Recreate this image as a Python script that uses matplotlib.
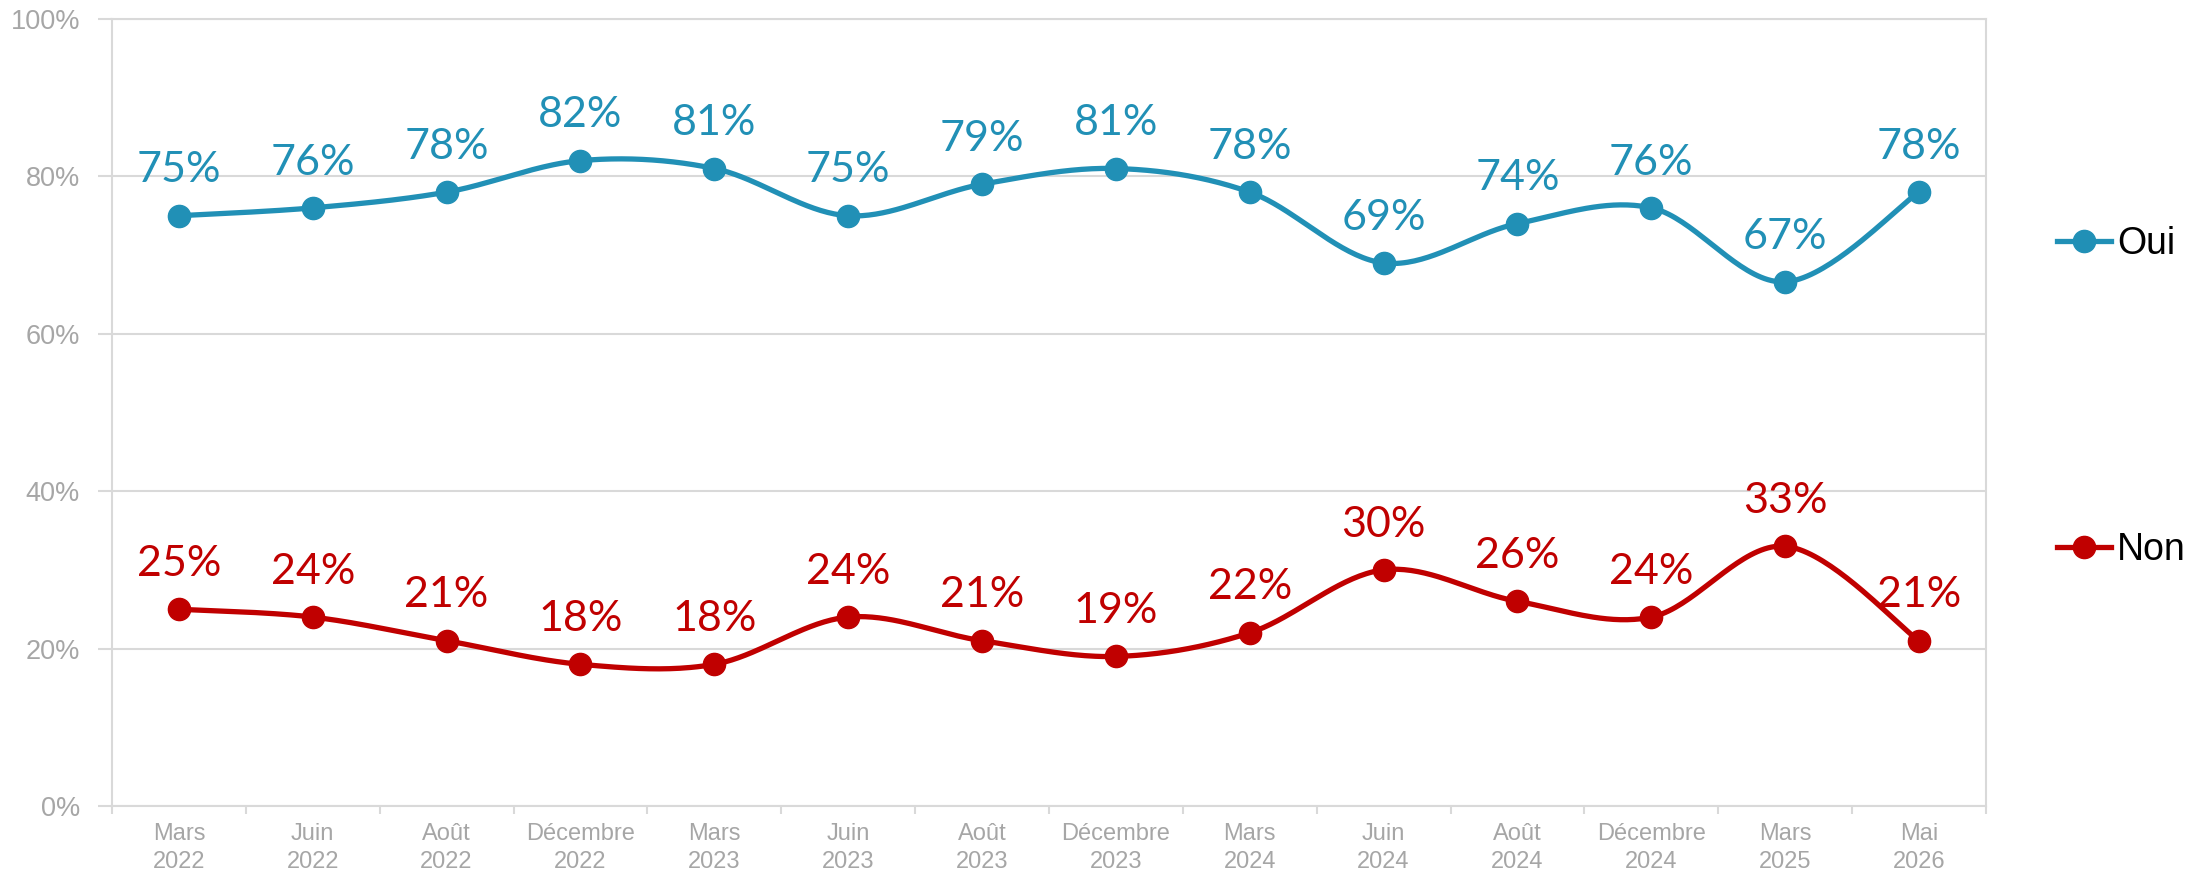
import numpy as np
import matplotlib.pyplot as plt
from matplotlib.lines import Line2D

# data
periods = ["Mars\n2022", "Juin\n2022", "Août\n2022", "Décembre\n2022", "Mars\n2023",
           "Juin\n2023", "Août\n2023", "Décembre\n2023", "Mars\n2024", "Juin\n2024",
           "Août\n2024", "Décembre\n2024", "Mars\n2025", "Mai\n2026"]
oui = [75, 76, 78, 82, 81, 75, 79, 81, 78, 69, 74, 76, 66.6, 78]
non = [25, 24, 21, 18, 18, 24, 21, 19, 22, 30, 26, 24, 33, 21]
series_names = ["Oui", "Non"]

BLUE = "#2190B6"
RED = "#C00000"
GRID = "#D9D9D9"
TICKTXT = "#A6A6A6"


def smooth(x, y, n=40):
    # Excel-style smoothed line: cubic Bezier through each pair of points
    x = np.asarray(x, float)
    y = np.asarray(y, float)
    px = np.concatenate([[x[0]], x, [x[-1]]])
    py = np.concatenate([[y[0]], y, [y[-1]]])
    t = np.linspace(0, 1, n)[:, None]
    xs, ys = [], []
    for i in range(len(x) - 1):
        p0 = np.array([px[i + 1], py[i + 1]])
        p3 = np.array([px[i + 2], py[i + 2]])
        c1 = p0 + (p3 - np.array([px[i], py[i]])) / 6.0
        c2 = p3 - (np.array([px[i + 3], py[i + 3]]) - p0) / 6.0
        pts = ((1 - t) ** 3) * p0 + 3 * ((1 - t) ** 2) * t * c1 \
            + 3 * (1 - t) * t ** 2 * c2 + t ** 3 * p3
        xs.append(pts[:, 0])
        ys.append(pts[:, 1])
    return np.concatenate(xs), np.concatenate(ys)


def main():
    fig = plt.figure(figsize=(22, 8.75), dpi=100)
    ax = fig.add_axes([0.0509, 0.0789, 0.9027 - 0.0509, 0.9783 - 0.0789])

    x = np.arange(len(periods))
    handles = []
    for vals, color, name in [(oui, BLUE, series_names[0]), (non, RED, series_names[1])]:
        sx, sy = smooth(x, vals)
        ax.plot(sx, sy, color=color, linewidth=3.8, solid_capstyle="round", zorder=3)
        ax.plot(x, vals, linestyle="none", marker="o", markersize=16,
                color=color, zorder=4)
        for xi, v in zip(x, vals):
            ax.annotate(f"{round(v)}%", (xi, v), xytext=(0, 24),
                        textcoords="offset points", ha="center", va="baseline",
                        fontsize=31, color=color, family=["Lato", "DejaVu Sans"],
                        zorder=5)
        handles.append(Line2D([], [], color=color, linewidth=3.8, marker="o",
                              markersize=16, label=name))

    ax.set_xlim(-0.5, len(periods) - 0.5)
    ax.set_ylim(0, 100)
    ax.set_yticks(np.arange(0, 101, 20))
    ax.set_yticklabels([f"{v}%" for v in range(0, 101, 20)])
    ax.set_xticks(x)
    ax.set_xticklabels(periods, linespacing=1.35)
    ax.set_xticks(np.arange(-0.5, len(periods), 1), minor=True)

    ax.grid(axis="y", color=GRID, linewidth=1.5, zorder=0)
    ax.set_axisbelow(True)
    for spine in ax.spines.values():
        spine.set_color(GRID)
        spine.set_linewidth(1.5)

    ax.tick_params(axis="x", which="major", length=0, pad=12,
                   labelsize=17, labelcolor=TICKTXT)
    ax.tick_params(axis="x", which="minor", length=6, width=1.5, color=GRID,
                   direction="out")
    ax.tick_params(axis="y", length=10, width=1.5, color=GRID, pad=13,
                   labelsize=19.5, labelcolor=TICKTXT)
    for lab in ax.get_xticklabels() + ax.get_yticklabels():
        lab.set_family(["Liberation Sans", "DejaVu Sans"])

    leg = fig.legend(handles=handles, loc="center left",
                     bbox_to_anchor=(2057 / 2200, 1 - 397.5 / 875),
                     frameon=False, borderpad=0, borderaxespad=0,
                     labelspacing=7.2, handlelength=1.45, handletextpad=0.15,
                     prop={"family": ["Liberation Sans", "DejaVu Sans"], "size": 27})
    for t in leg.get_texts():
        t.set_color("black")

    fig.savefig("out.png", dpi=100)
    plt.close(fig)


if __name__ == "__main__":
    main()
